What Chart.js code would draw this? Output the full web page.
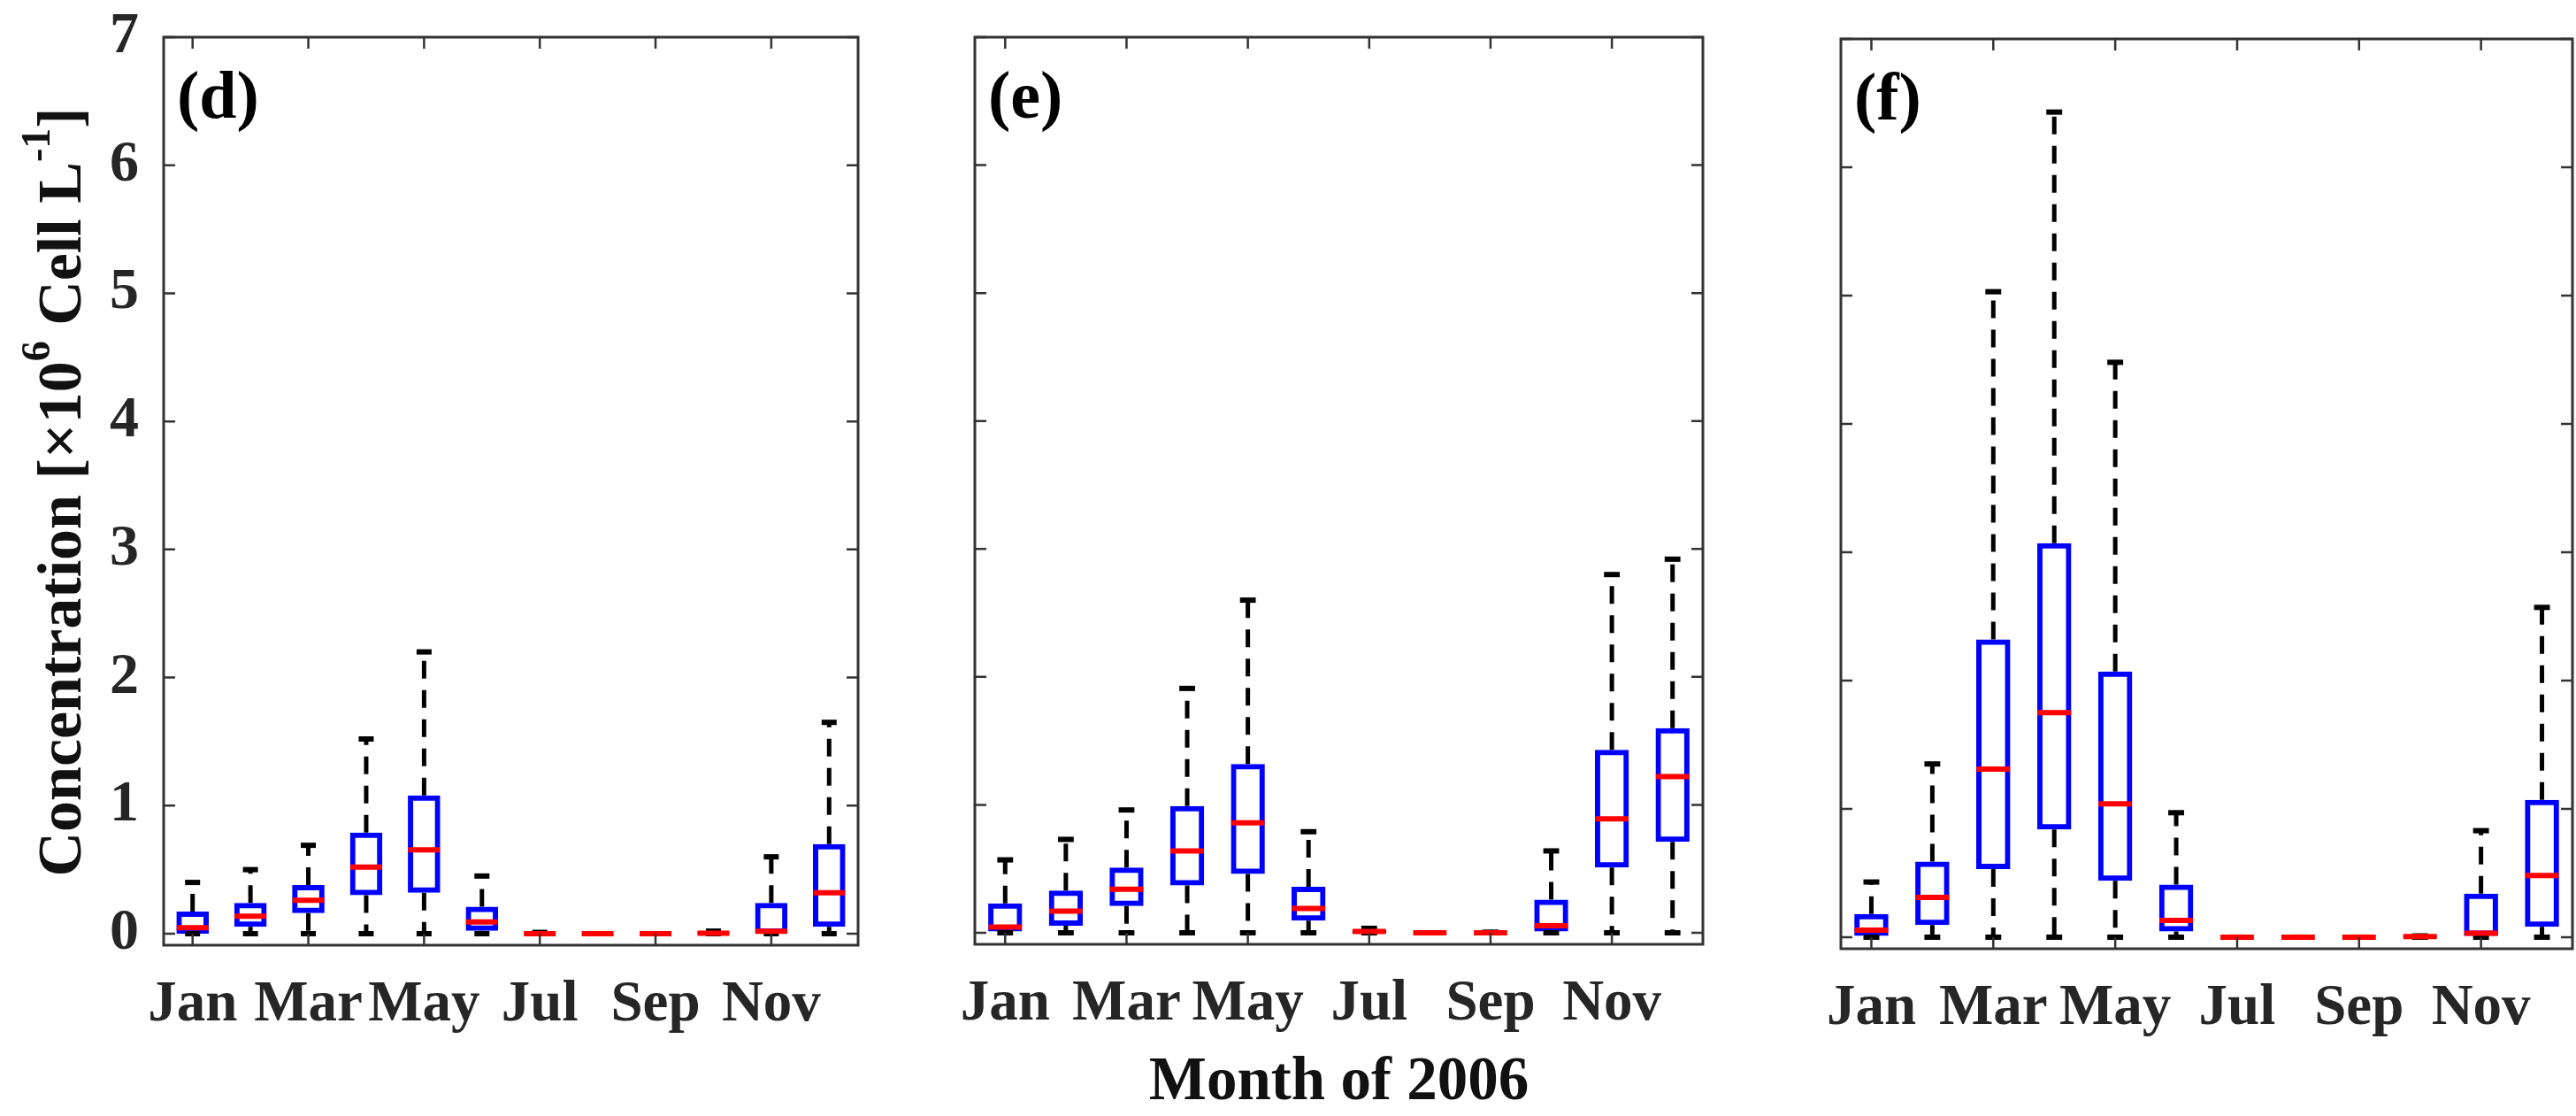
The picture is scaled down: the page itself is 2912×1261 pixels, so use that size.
<!DOCTYPE html>
<html>
<head>
<meta charset="utf-8">
<script src="https://cdn.jsdelivr.net/npm/chart.js@4.4.0/dist/chart.umd.min.js"></script>
<style>
  html, body { margin: 0; padding: 0; background: #fff; }
  .panel { position: absolute; top: 0; height: 1261px; }
</style>
</head>
<body>
<div class="panel" style="left:0px;width:995px"><canvas id="cd"></canvas></div>
<div class="panel" style="left:1000px;width:950px"><canvas id="ce"></canvas></div>
<div class="panel" style="left:1960px;width:952px"><canvas id="cf"></canvas></div>
<script>
const months = ["Jan", "Feb", "Mar", "Apr", "May", "Jun", "Jul", "Aug", "Sep", "Oct", "Nov", "Dec"];
const tickMonths = [1, 3, 5, 7, 9, 11];
const yTicks = [0, 1, 2, 3, 4, 5, 6, 7];

// panel (d)
const dMin = [0, 0, 0, 0, 0, 0, 0, 0, 0, 0, 0, 0];
const dQ1  = [0.0, 0.053, 0.16, 0.30, 0.32, 0.023, 0, 0, 0, 0, 0.0, 0.053];
const dMed = [0.046, 0.136, 0.26, 0.52, 0.655, 0.092, 0, 0, 0, 0.004, 0.018, 0.32];
const dQ3  = [0.172, 0.24, 0.38, 0.79, 1.08, 0.21, 0.004, 0, 0, 0.01, 0.24, 0.70];
const dMax = [0.40, 0.50, 0.69, 1.52, 2.20, 0.45, 0.01, 0, 0, 0.02, 0.60, 1.65];

// panel (e)
const eMin = [0, 0, 0, 0, 0, 0, 0, 0, 0, 0, 0, 0];
const eQ1  = [0.01, 0.055, 0.21, 0.37, 0.46, 0.095, 0, 0, 0, 0.01, 0.51, 0.71];
const eMed = [0.045, 0.17, 0.34, 0.64, 0.86, 0.19, 0.01, 0, 0, 0.055, 0.89, 1.22];
const eQ3  = [0.23, 0.33, 0.51, 0.99, 1.32, 0.36, 0.02, 0, 0, 0.26, 1.43, 1.60];
const eMax = [0.57, 0.73, 0.96, 1.91, 2.60, 0.79, 0.035, 0, 0.005, 0.64, 2.80, 2.92];

// panel (f)
const fMin = [0, 0, 0, 0, 0, 0, 0, 0, 0, 0, 0, 0];
const fQ1  = [0.01, 0.095, 0.53, 0.84, 0.44, 0.045, 0, 0, 0, 0, 0.01, 0.08];
const fMed = [0.055, 0.31, 1.31, 1.75, 1.04, 0.13, 0, 0, 0, 0.005, 0.03, 0.48];
const fQ3  = [0.18, 0.59, 2.32, 3.07, 2.07, 0.41, 0, 0, 0, 0.01, 0.34, 1.07];
const fMax = [0.43, 1.35, 5.03, 6.43, 4.48, 0.97, 0, 0, 0, 0.01, 0.83, 2.57];

const serif = "'Liberation Serif', 'Times New Roman', serif";
Chart.defaults.font.family = serif;
Chart.defaults.font.weight = "bold";
Chart.defaults.animation = false;

function boxSets(mn, q1, med, q3, mx) {
  const boxes = [], whisk = [], caps = [], meds = [];
  months.forEach((m, i) => {
    const x = i + 1;
    boxes.push({ x: x, y: [q1[i], q3[i]] });
    whisk.push({ x: x, y: q3[i] }, { x: x, y: mx[i] }, { x: x, y: null },
               { x: x, y: q1[i] }, { x: x, y: mn[i] }, { x: x, y: null });
    caps.push({ x: x, y: mx[i] }, { x: x, y: mn[i] });
    meds.push({ x: x, y: med[i] });
  });
  const halfBox = c => c.chart.scales.x.getPixelForValue(1.275) - c.chart.scales.x.getPixelForValue(1);
  const halfCap = c => c.chart.scales.x.getPixelForValue(1.13) - c.chart.scales.x.getPixelForValue(1);
  return [
    { type: "scatter", data: meds, order: 0, pointStyle: "line", pointRadius: halfBox,
      pointBorderColor: "#ff0000", borderColor: "#ff0000", pointBorderWidth: 6 },
    { type: "scatter", data: caps, order: 1, pointStyle: "line", pointRadius: halfCap,
      pointBorderColor: "#000", borderColor: "#000", pointBorderWidth: 6 },
    { type: "line", data: whisk, order: 2, borderColor: "#000", borderWidth: 5,
      borderDash: [20, 13], pointRadius: 0, spanGaps: false, fill: false },
    { type: "bar", data: boxes, order: 3, backgroundColor: "rgba(0,0,0,0)",
      borderColor: "#0000ff", borderWidth: 6, borderSkipped: false,
      barPercentage: 0.56, categoryPercentage: 1 }
  ];
}

const framePlugin = {
  id: "frame",
  afterDraw(chart, args, opts) {
    const { ctx, chartArea: a, scales: { x, y } } = chart;
    ctx.save();
    ctx.strokeStyle = "#333";
    ctx.lineWidth = 3;
    ctx.strokeRect(a.left, a.top, a.right - a.left, a.bottom - a.top);
    ctx.lineWidth = 2.5;
    ctx.beginPath();
    yTicks.forEach(v => {
      const py = y.getPixelForValue(v);
      ctx.moveTo(a.left, py); ctx.lineTo(a.left + 13, py);
      ctx.moveTo(a.right, py); ctx.lineTo(a.right - 13, py);
    });
    tickMonths.forEach(v => {
      const px = x.getPixelForValue(v);
      ctx.moveTo(px, a.bottom); ctx.lineTo(px, a.bottom - 13);
      ctx.moveTo(px, a.top); ctx.lineTo(px, a.top + 13);
    });
    ctx.stroke();

    ctx.fillStyle = "#000";
    ctx.textBaseline = "alphabetic";
    ctx.font = "bold 76px " + serif;
    ctx.fillText(opts.letter, a.left + 15, a.top + 91);

    if (opts.yTitle) {
      ctx.translate(91, 556);
      ctx.rotate(-Math.PI / 2);
      const big = "bold 70px " + serif, small = "bold 46px " + serif;
      const parts = [["Concentration [\u00d710", big, 0], ["6", small, -35],
                     [" Cell L", big, 0], ["-1", small, -35], ["]", big, 0]];
      let w = 0;
      parts.forEach(p => { ctx.font = p[1]; w += ctx.measureText(p[0]).width; });
      let cx = -w / 2;
      ctx.fillStyle = "#111";
      parts.forEach(p => {
        ctx.font = p[1];
        ctx.fillText(p[0], cx, p[2]);
        cx += ctx.measureText(p[0]).width;
      });
    }
    ctx.restore();
  }
};

function makePanel(id, sets, opt) {
  new Chart(id, {
    type: "bar",
    data: { datasets: sets },
    plugins: [framePlugin],
    options: {
      responsive: true,
      maintainAspectRatio: false,
      events: [],
      layout: { padding: { left: 0, right: opt.right, top: opt.top, bottom: 0 } },
      plugins: {
        legend: { display: false },
        tooltip: { enabled: false },
        frame: { letter: opt.letter, yTitle: opt.yTitle }
      },
      scales: {
        x: {
          type: "linear", min: 0.5, max: 12.5, offset: false,
          grid: { display: false, drawTicks: false },
          border: { display: false },
          afterBuildTicks: s => { s.ticks = tickMonths.map(v => ({ value: v })); },
          afterFit: s => { s.height = opt.xh; s.paddingLeft = 0; s.paddingRight = 0; },
          ticks: {
            callback: v => months[v - 1], align: "center",
            font: { size: 65, weight: "bold" }, color: "#262626",
            padding: 29, maxRotation: 0, autoSkip: false
          },
          title: {
            display: opt.xTitle, text: "Month of 2006", color: "#111",
            font: { size: 69, weight: "bold", lineHeight: 1 },
            padding: { top: 0, bottom: 2 }
          }
        },
        y: {
          type: "linear", min: -0.09, max: 7,
          grid: { display: false, drawTicks: false },
          border: { display: false },
          afterBuildTicks: s => { s.ticks = yTicks.map(v => ({ value: v })); },
          afterFit: s => { s.width = opt.yw; s.paddingTop = 0; s.paddingBottom = 0; },
          ticks: {
            display: opt.yLabels,
            font: { size: 66, weight: "bold" }, color: "#262626", padding: 28
          }
        }
      }
    }
  });
}

makePanel("cd", boxSets(dMin, dQ1, dMed, dQ3, dMax),
  { letter: "(d)", yTitle: true, yLabels: true, xTitle: false, yw: 185, xh: 193, top: 42, right: 25 });
makePanel("ce", boxSets(eMin, eQ1, eMed, eQ3, eMax),
  { letter: "(e)", yTitle: false, yLabels: false, xTitle: true, yw: 102, xh: 194, top: 42, right: 25 });
makePanel("cf", boxSets(fMin, fQ1, fMed, fQ3, fMax),
  { letter: "(f)", yTitle: false, yLabels: false, xTitle: false, yw: 121, xh: 189, top: 44, right: 4 });
</script>
</body>
</html>
